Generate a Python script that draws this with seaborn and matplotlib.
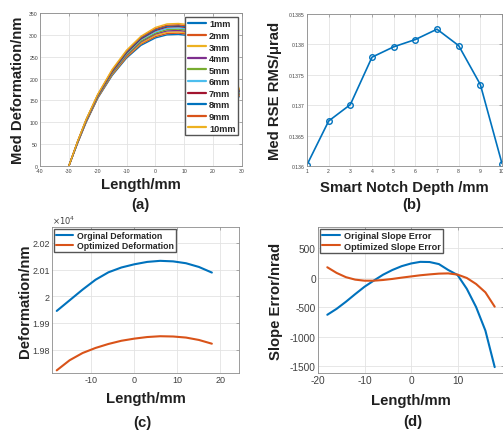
import pandas as pd
import seaborn as sns
import matplotlib.pyplot as plt
from matplotlib.ticker import FuncFormatter

# (a) median deformation along the length, one curve per notch depth
len_a = [-30, -27, -24, -20, -15, -10, -5, 0, 4, 8, 12, 16, 20, 24, 27, 29]
depth_names = ["1mm", "2mm", "3mm", "4mm", "5mm", "6mm", "7mm", "8mm", "9mm", "10mm"]
med_defo = [
    [0, 52, 100, 155, 207, 247, 276, 293, 300, 301, 298, 288, 268, 232, 195, 158],
    [0, 52, 101, 156, 209, 249, 279, 296, 303, 304, 301, 291, 271, 235, 198, 160],
    [0, 53, 102, 157, 210, 251, 281, 299, 306, 307, 304, 294, 274, 238, 200, 162],
    [0, 53, 102, 158, 212, 253, 284, 302, 309, 310, 307, 297, 277, 241, 203, 164],
    [0, 54, 103, 159, 213, 255, 286, 304, 312, 313, 310, 300, 280, 244, 206, 166],
    [0, 54, 104, 160, 215, 257, 289, 307, 315, 316, 313, 303, 283, 247, 209, 168],
    [0, 55, 105, 161, 216, 259, 291, 310, 318, 319, 316, 306, 286, 250, 212, 170],
    [0, 55, 106, 162, 218, 261, 293, 312, 320, 321, 318, 308, 288, 252, 214, 172],
    [0, 56, 106, 163, 219, 263, 295, 314, 322, 323, 320, 310, 290, 254, 216, 174],
    [0, 56, 107, 164, 221, 265, 297, 317, 325, 326, 323, 313, 293, 257, 219, 176],
]

# (b) RSE RMS vs smart notch depth
depth_b = [1, 2, 3, 4, 5, 6, 7, 8, 9, 10]
rse_rms = [0.13602, 0.13674, 0.13701, 0.13779, 0.13796, 0.13808, 0.13825, 0.13798, 0.13734, 0.13604]

# (c) deformation, original vs optimized
len_c = [-18, -15, -12, -9, -6, -3, 0, 3, 6, 9, 12, 15, 18]
orig_defo = [19945, 19985, 20025, 20062, 20090, 20108, 20120, 20129, 20133, 20131, 20124, 20110, 20089]
opt_defo = [19722, 19760, 19787, 19806, 19821, 19833, 19841, 19847, 19850, 19849, 19845, 19836, 19822]

# (d) slope error, original vs optimized
len_d = [-18, -16, -14, -12, -10, -8, -6, -4, -2, 0, 2, 4, 6, 8, 10, 12, 14, 16, 18]
orig_slope = [-631, -530, -410, -280, -155, -50, 50, 130, 195, 240, 268, 265, 230, 130, 45, -190, -500, -900, -1520]
opt_slope = [176, 80, 8, -34, -52, -52, -40, -22, 0, 20, 40, 55, 68, 72, 52, -6, -108, -250, -494]

matlab = ["#0072BD", "#D95319", "#EDB120", "#7E2F8E", "#77AC30",
          "#4DBEEE", "#A2142F", "#0072BD", "#D95319", "#EDB120"]

sns.set_style("whitegrid")
plt.rcParams["font.family"] = ["Liberation Sans", "DejaVu Sans"]
plt.rcParams["axes.unicode_minus"] = False

W, H = 503, 431
fig = plt.figure(figsize=(W / 100, H / 100), dpi=100)


def box(l, t, r, b):
    return fig.add_axes([l / W, 1 - b / H, (r - l) / W, (b - t) / H])


def matlab_axes(ax, tick_size):
    ax.grid(True, color="#e3e3e3", linewidth=0.6)
    for s in ax.spines.values():
        s.set_visible(True)
        s.set_color("#8c8c8c")
        s.set_linewidth(0.6)
    ax.tick_params(direction="in", length=2, width=0.5, color="#8c8c8c",
                   labelsize=tick_size, labelcolor="#404040", pad=1.5,
                   top=True, right=True)


lab = dict(fontsize=10.7, fontweight="bold", color="#202020")

# ---------------- (a)
ax = box(40, 14, 242, 167)
rows = []
for name, ys in zip(depth_names, med_defo):
    for x, y in zip(len_a, ys):
        rows.append((x, y, name))
df_a = pd.DataFrame(rows, columns=["len", "defo", "depth"])
sns.lineplot(data=df_a, x="len", y="defo", hue="depth", hue_order=depth_names,
             palette=matlab, estimator=None, sort=False, linewidth=1.0, ax=ax)
ax.set_xlim(-40, 30)
ax.set_ylim(0, 350)
ax.set_xticks(range(-40, 31, 10))
ax.set_yticks(range(0, 351, 50))
matlab_axes(ax, 3.7)
h, l = ax.get_legend_handles_labels()
for hh in h:
    hh.set_linewidth(1.6)
ax.legend(h, l, loc="upper right", fontsize=6.6, prop={"weight": "bold", "size": 6.6},
          frameon=True, fancybox=False, edgecolor="#555555", framealpha=1,
          handlelength=2.0, handletextpad=0.35, labelspacing=0.28,
          borderpad=0.3, borderaxespad=0.4)
ax.set_xlabel("Length/mm", **lab)
ax.set_ylabel("Med Deformation/nm", **lab)
ax.xaxis.set_label_coords(0.5, -0.075)
ax.yaxis.set_label_coords(-0.075, 0.5)

# ---------------- (b)
ax = box(307, 15, 502, 167)
df_b = pd.DataFrame({"depth": depth_b, "rse": rse_rms})
sns.lineplot(data=df_b, x="depth", y="rse", color="#0072BD", linewidth=1.2,
             marker="o", markersize=4, markerfacecolor="none",
             markeredgecolor="#0072BD", markeredgewidth=1.0, ax=ax)
ax.set_xlim(1, 10)
ax.set_ylim(0.136, 0.1385)
ax.set_xticks(depth_b)
ax.set_yticks([0.136, 0.1365, 0.137, 0.1375, 0.138, 0.1385])
ax.yaxis.set_major_formatter(FuncFormatter(lambda v, p: f"{v:g}"))
matlab_axes(ax, 3.7)
ax.set_xlabel("Smart Notch Depth /mm", **lab)
ax.set_ylabel("Med RSE RMS/\u03bcrad", **lab)
ax.xaxis.set_label_coords(0.5, -0.092)
ax.yaxis.set_label_coords(-0.128, 0.5)

# ---------------- (c)
ax = box(52, 228, 239, 374)
df_c = pd.DataFrame({
    "len": len_c * 2,
    "defo": orig_defo + opt_defo,
    "kind": ["Orginal Deformation"] * len(len_c) + ["Optimized Deformation"] * len(len_c),
})
sns.lineplot(data=df_c, x="len", y="defo", hue="kind", palette=matlab[:2],
             estimator=None, sort=False, linewidth=1.5, ax=ax)
ax.set_xlim(-19.1, 24.3)
ax.set_ylim(19712, 20260)
ax.set_xticks([-10, 0, 10, 20])
ax.set_yticks([19800, 19900, 20000, 20100, 20200])
ax.yaxis.set_major_formatter(FuncFormatter(lambda v, p: f"{v / 1e4:g}"))
matlab_axes(ax, 6.5)
ax.text(0.0, 1.01, r"$\times10^{4}$", transform=ax.transAxes, fontsize=6,
        color="#404040", va="bottom", ha="left")
h, l = ax.get_legend_handles_labels()
ax.legend(h, l, loc="upper left", prop={"weight": "bold", "size": 6.3},
          frameon=True, fancybox=False, edgecolor="#555555", framealpha=1,
          handlelength=2.0, handletextpad=0.4, labelspacing=0.1,
          borderpad=0.25, borderaxespad=0.2)
ax.set_xlabel("Length/mm", **lab)
ax.set_ylabel("Deformation/nm", **lab)
ax.xaxis.set_label_coords(0.5, -0.12)
ax.yaxis.set_label_coords(-0.107, 0.5)

# ---------------- (d)
ax = box(318, 228, 504, 374)
df_d = pd.DataFrame({
    "len": len_d * 2,
    "slope": orig_slope + opt_slope,
    "kind": ["Original Slope Error"] * len(len_d) + ["Optimized Slope Error"] * len(len_d),
})
sns.lineplot(data=df_d, x="len", y="slope", hue="kind", palette=matlab[:2],
             estimator=None, sort=False, linewidth=1.5, ax=ax)
ax.set_xlim(-20, 20)
ax.set_ylim(-1620, 860)
ax.set_xticks([-20, -10, 0, 10])
ax.set_yticks([-1500, -1000, -500, 0, 500])
matlab_axes(ax, 7.3)
h, l = ax.get_legend_handles_labels()
ax.legend(h, l, loc="upper left", prop={"weight": "bold", "size": 6.6},
          frameon=True, fancybox=False, edgecolor="#555555", framealpha=1,
          handlelength=2.0, handletextpad=0.4, labelspacing=0.15,
          borderpad=0.25, borderaxespad=0.2)
ax.set_xlabel("Length/mm", **lab)
ax.set_ylabel("Slope Error/nrad", **lab)
ax.xaxis.set_label_coords(0.5, -0.135)
ax.yaxis.set_label_coords(-0.189, 0.5)

# panel tags
for x, y, t in [(140, 205, "(a)"), (412, 205, "(b)"), (142, 423, "(c)"), (413, 422, "(d)")]:
    fig.text(x / W, 1 - y / H, t, ha="center", va="center", **lab)

fig.savefig("out.png", dpi=100)
